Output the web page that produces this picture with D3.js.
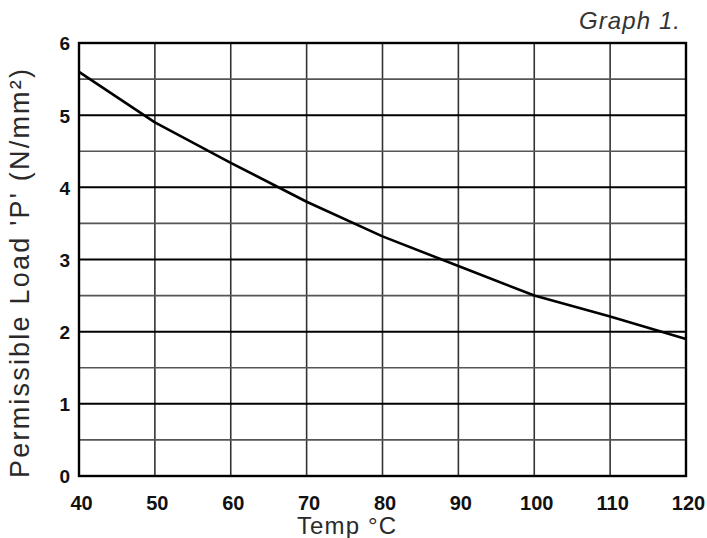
<!DOCTYPE html>
<html lang="en">
<head>
    <meta charset="UTF-8">
    <title>Graph 1 - Permissible Load vs Temp</title>
    <script src="https://d3js.org/d3.v7.min.js"></script>
    <style>
        body { margin: 0; background: #fff; }
        text { font-family: "Liberation Sans", Arial, sans-serif; }
        .tick text { font-weight: bold; fill: #111; }
    </style>
</head>
<body>
    <div id="chart"></div>
    <script>
        // data
        const temps = [40, 50, 60, 70, 80, 90, 100, 110, 120];
        const loads = [5.6, 4.9, 4.34, 3.8, 3.32, 2.91, 2.5, 2.21, 1.9];
        const xTicks = [40, 50, 60, 70, 80, 90, 100, 110, 120];
        const yTicks = [0, 1, 2, 3, 4, 5, 6];
        const yMinor = [0.5, 1.5, 2.5, 3.5, 4.5, 5.5];

        const W = 707, H = 538;
        const margin = { top: 43, right: 21, bottom: 62, left: 79 };
        const width = W - margin.left - margin.right;
        const height = H - margin.top - margin.bottom;

        const svg = d3.select("#chart").append("svg")
            .attr("width", W)
            .attr("height", H);

        const g = svg.append("g")
            .attr("transform", `translate(${margin.left},${margin.top})`);

        const x = d3.scaleLinear().domain([40, 120]).range([0, width]);
        const y = d3.scaleLinear().domain([0, 6]).range([height, 0]);

        // grid
        g.selectAll(".vgrid")
            .data(xTicks.slice(1, -1))
            .enter().append("line")
            .attr("x1", d => x(d)).attr("x2", d => x(d))
            .attr("y1", 0).attr("y2", height)
            .attr("stroke", "#333").attr("stroke-width", 1.6);

        g.selectAll(".hminor")
            .data(yMinor)
            .enter().append("line")
            .attr("x1", 0).attr("x2", width)
            .attr("y1", d => y(d)).attr("y2", d => y(d))
            .attr("stroke", "#555").attr("stroke-width", 1.6);

        g.selectAll(".hmajor")
            .data(yTicks.slice(1, -1))
            .enter().append("line")
            .attr("x1", 0).attr("x2", width)
            .attr("y1", d => y(d)).attr("y2", d => y(d))
            .attr("stroke", "#000").attr("stroke-width", 2);

        // frame
        g.append("rect")
            .attr("x", 0).attr("y", 0)
            .attr("width", width).attr("height", height)
            .attr("fill", "none")
            .attr("stroke", "#000").attr("stroke-width", 2.4);

        // curve
        const line = d3.line()
            .x((d, i) => x(temps[i]))
            .y(d => y(d));

        g.append("path")
            .datum(loads)
            .attr("d", line)
            .attr("fill", "none")
            .attr("stroke", "#000")
            .attr("stroke-width", 2.6)
            .attr("stroke-linejoin", "round");

        // axes (labels only)
        const yAxis = g.append("g")
            .call(d3.axisLeft(y).tickValues(yTicks).tickSize(0).tickPadding(9).tickFormat(d3.format("d")));
        yAxis.select(".domain").remove();
        yAxis.selectAll("text").style("font-size", "19px").attr("dy", "0.36em");

        const xAxis = g.append("g")
            .attr("transform", `translate(0,${height})`)
            .call(d3.axisBottom(x).tickValues(xTicks).tickSize(0).tickPadding(20).tickFormat(d3.format("d")));
        xAxis.select(".domain").remove();
        xAxis.selectAll("text").style("font-size", "20px").attr("dx", "2").attr("dy", "0.68em");

        // axis titles
        svg.append("text")
            .attr("transform", "translate(29,478) rotate(-90)")
            .attr("x", 0).attr("y", 0)
            .attr("textLength", 409)
            .attr("font-size", 27)
            .attr("fill", "#2a2a2a")
            .text("Permissible Load 'P' (N/mm²)");

        svg.append("text")
            .attr("x", 297).attr("y", 534)
            .attr("textLength", 99)
            .attr("font-size", 24)
            .attr("fill", "#2a2a2a")
            .text("Temp °C");

        svg.append("text")
            .attr("x", 579).attr("y", 29)
            .attr("textLength", 101)
            .attr("font-size", 24)
            .attr("font-style", "italic")
            .attr("fill", "#333")
            .text("Graph 1.");
    </script>
</body>
</html>
